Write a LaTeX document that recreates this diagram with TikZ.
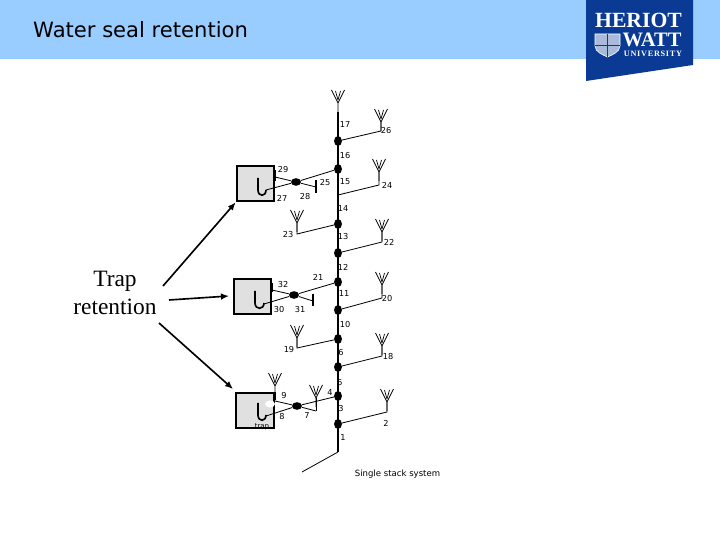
\documentclass[tikz,border=0pt]{standalone}
\usepackage{fontspec}
\setmainfont{DejaVu Sans}
\newfontfamily\serifface{Liberation Serif}
\usetikzlibrary{calc,arrows.meta,shapes.geometric}
\definecolor{bannerblue}{HTML}{99CCFF}
\definecolor{logoblue}{HTML}{0B3A94}
\definecolor{boxgrey}{HTML}{E0E0E0}
\tikzset{
  junction/.style={ellipse,fill=black,minimum width=6.8pt,minimum height=8.5pt,inner sep=0pt},
  hub/.style={ellipse,fill=black,minimum width=8.5pt,minimum height=6.5pt,inner sep=0pt},
  pipe/.style={line width=0.7pt},
  stack/.style={line width=2.2pt},
  num/.style={font=\fontsize{7}{8}\selectfont,inner sep=0pt},
  fixture/.style={fill=boxgrey,draw=black,line width=1.7pt,minimum width=1.13cm,minimum height=1.07cm,inner sep=0pt},
  seal/.style={line width=1.4pt},
  stub/.style={line width=2.2pt},
  pointer/.style={->,line width=1.4pt},
  pics/vent/.style={code={
    \draw[line width=0.6pt] (0,0) -- (0,-9) -- (-6.5,-22) (0,-9) -- (6.5,-22);
    \draw[line width=0.6pt] (0,-12) -- (-2.5,-21) (0,-12) -- (2.5,-21);
  }}
}
\begin{document}
\begin{tikzpicture}[x=0.03cm,y=-0.03cm,>={Latex[length=2.4mm,width=2mm]}]
  \useasboundingbox (0,0) rectangle (720,540);
  % ===== banner =====
  \fill[bannerblue] (0,0) rectangle (720,59);
  \node[anchor=west,inner sep=0pt,font=\fontsize{18}{20}\selectfont] (title) at (33,30) {Water seal retention};
  % ===== logo =====
  \fill[logoblue] (586,0) -- (693,0) -- (693,65) -- (586,81) -- cycle;
  \node[white,inner sep=0pt,font=\serifface\bfseries\fontsize{18.5}{19}\selectfont] (heriot) at (638.5,20) {HERIOT};
  \node[white,inner sep=0pt,font=\serifface\bfseries\fontsize{17.5}{18}\selectfont] (watt) at (652,39.5) {WATT};
  \node[white,inner sep=0pt,font=\serifface\bfseries\fontsize{7}{8}\selectfont\addfontfeature{LetterSpace=9}] (univ) at (653,54) {UNIVERSITY};
  \filldraw[fill=logoblue!35!white,draw=white,line width=0.5pt] (595,34) -- (620,34) -- (620,46) .. controls (620,52) and (612,55) .. (607.5,57) .. controls (603,55) and (595,52) .. (595,46) -- cycle;
  \draw[logoblue,line width=0.8pt] (607.5,34) -- (607.5,57) (595,45) -- (620,45);
  % ===== trap retention =====
  \node[align=center,inner sep=0pt,font=\serifface\fontsize{20}{23.8}\selectfont] (traplabel) at (115,293) {Trap\\retention};
  % ===== fixtures =====
  \node[fixture] (boxA) at (255.5,183.5) {};
  \node[fixture] (boxB) at (252.5,296.5) {};
  \node[fixture] (boxC) at (255,410.5) {};
  \draw[seal] (258,178) -- (258,190) .. controls (258,197) and (266,197) .. (266,190);
  \draw[seal] (255,291) -- (255,303) .. controls (255,310) and (264,310) .. (264,303);
  \draw[seal] (258,403) -- (258,415) .. controls (258,422) and (266,422) .. (266,415);
  \draw[stub] (275,170) -- (275,181);
  \draw[stub] (272,283) -- (272,292);
  \draw[stub] (275,392) -- (275,400);
  \fill[white] (270,404) ellipse (5 and 3.5);
  \node[inner sep=0pt,font=\fontsize{6}{7}\selectfont] (traptext) at (262,427) {trap};
  % arrows
  \coordinate (a1) at (163,286);
  \coordinate (a2) at (169,300);
  \coordinate (a3) at (159,323);
  \coordinate (e2) at (229,296);
  \coordinate (e3) at (233,389);
  \draw[pointer] (a1) -- (boxA.south west);
  \draw[pointer] (a2) -- (e2);
  \draw[pointer] (a3) -- (e3);
  % ===== main stack =====
  \coordinate (stacktop) at (338,112);
  \coordinate (stackfoot) at (338,452);
  \coordinate (drain) at (302,472);
  \draw[stack] (stacktop) -- (stackfoot);
  \draw[pipe] (stackfoot) -- (drain);
  \foreach \nm/\yy in {j17/141,j16/169,j14/224,j13/253,j12/282,j11/310,j10/339,j6/367,j5/396,j3/424}
    \node[junction] (\nm) at (338,\yy) {};
  \coordinate (j15) at (338,195);
  % branches with a vent on top: junction / elbow x,y / stem top y
  \foreach \nm/\xx/\yy/\tp in {j17/381/131/122,j15/379/185/172,j14/297/234/223,j13/382/242/232,j11/382/298/285,j10/297/348/338,j6/382/356/346,j3/387/412/402}
    {\draw[pipe] (\nm) -- (\xx,\yy) -- (\xx,\tp);
     \pic at (\xx,\tp+9) {vent};}
  \pic at (338,112) {vent};
  % ===== floor branches =====
  \node[hub] (hubA) at (296,182) {};
  \node[hub] (hubB) at (294,295) {};
  \node[hub] (hubC) at (297,406) {};
  \coordinate (teeA) at (316,187);
  \coordinate (teeB) at (313,301);
  \coordinate (teeC) at (316,411);
  \draw[pipe] (266,190) -- (hubA) -- (j16);
  \draw[pipe] (275,177) -- (hubA) -- (teeA);
  \draw[line width=1.2pt] (316,180) -- (316,193);
  \draw[pipe] (264,304) -- (hubB) -- (j12);
  \draw[pipe] (272,290) -- (hubB) -- (teeB);
  \draw[line width=1.2pt] (313,294) -- (313,306);
  \draw[pipe] (266,416) -- (hubC) -- (j5);
  \draw[pipe] (275,401) -- (hubC) -- (teeC);
  \draw[pipe] (teeC) -- (316,398);
  \pic at (316,407) {vent};
  \pic at (275,395) {vent};
  % ===== pipe numbers =====
  \foreach \tx/\xx/\yy in {17/345/125,26/386/131,16/345/156,29/283/170,25/325/183,15/345/182,24/387/185,27/282/198,28/305/197,14/343/209,23/288/235,13/343/237,22/389/242,12/343/267,21/318/277,32/283/285,11/344/294,20/387/299,30/279/310,31/300/310,10/345/325,19/289/350,6/341/353,18/388/357,5/340/383,9/284/396,4/330/393,3/341/409,8/282/417,7/307/416,2/386/423,1/343/438}
    \node[num] (n\tx) at (\xx,\yy) {\tx};
  \node[num,font=\fontsize{7.3}{8}\selectfont] (caption) at (397.5,474) {Single stack system};
\end{tikzpicture}
\end{document}
